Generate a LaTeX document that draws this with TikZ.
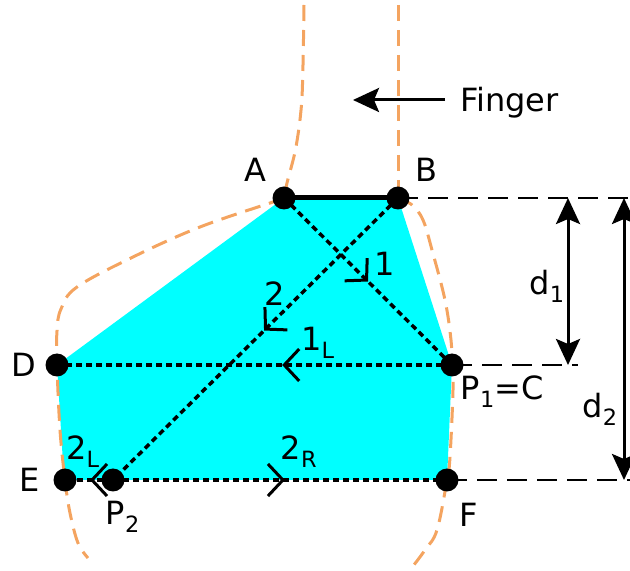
\documentclass[tikz,border=0pt]{standalone}
\usepackage{fontspec}
\setmainfont{DejaVu Sans}
\usetikzlibrary{arrows.meta,decorations.markings,positioning}
\definecolor{skin}{RGB}{244,164,96}
\definecolor{palm}{RGB}{0,255,255}
\tikzset{
ray/.style={line width=3.5pt,dash pattern=on 6pt off 4pt},
midarrow/.style={postaction={decorate},decoration={markings,
  mark=at position #1 with {\arrow{Straight Barb[length=15pt,width=32pt,line width=3pt]}}}},
outline/.style={skin,line width=3pt,dash pattern=on 16pt off 9pt},
level/.style={line width=2.5pt,dash pattern=on 20pt off 10pt},
tip/.tip={Stealth[length=26pt,width=24pt,inset=5pt]},
dim/.style={line width=3pt,tip-tip},
}
\begin{document}
\begin{tikzpicture}[x=1pt,y=1pt,font=\fontsize{32}{38}\selectfont]
\useasboundingbox (0,0) rectangle (630,571);
\path
(284,373) coordinate (A)
(398,373) coordinate (B)
(452,206) coordinate (C)
(57,206) coordinate (D)
(65,91) coordinate (E)
(447,91) coordinate (F)
(113,91) coordinate (P2)
(630,373) coordinate (Bend)
(578,206) coordinate (Cend)
(630,91) coordinate (Fend)
(568,373) coordinate (d1top)
(568,206) coordinate (d1bot)
(624,373) coordinate (d2top)
(624,91) coordinate (d2bot)
(445,471) coordinate (tail)
(353,471) coordinate (head)
;
\fill[palm] (A)--(B)--(C)--(448,114)--(F)--(E)--(63,108)--(D)--cycle;
% finger and palm outline
\draw[outline] plot[smooth] coordinates {(304,566) (302,474) (296,424) (287,388) (A)};
\draw[outline] plot[smooth,tension=0.6] coordinates {(A) (273,369) (200,344) (133,314)
  (77,284) (61,262) (57,240) (D) (60,141) (E) (70,58) (78,28) (88,13)};
\draw[outline] (398,566)--(B);
\draw[outline] plot[smooth,tension=0.6] coordinates {(B) (412,366) (423,351) (432,321)
  (445,271) (451,231) (C) (453,181) (450,114) (F) (437,41) (425,21) (410,1)};
% rays
\draw[ray,midarrow=0.5] (A)--(C);
\draw[ray,midarrow=0.47] (B)--(P2);
\draw[ray,midarrow=0.43] (C)--(D);
\draw[ray,midarrow=0.48] (P2)--(E);
\draw[ray,midarrow=0.515] (P2)--(F);
\draw[line width=5pt] (A)--(B);
\node (lab1) at (385,307) {1};
\node (lab2) at (275,277) {2};
\node (lab1L) at (318,228) {1\textsubscript{L}};
\node (lab2L) at (83,119) {2\textsubscript{L}};
\node (lab2R) at (299,119) {2\textsubscript{R}};
% distances
\draw[level] (B)--(Bend) (C)--(Cend) (F)--(Fend);
\draw[dim] (d1top)--(d1bot) node[pos=0.53,left=2pt,inner sep=0] (d1) {d\textsubscript{1}};
\draw[dim] (d2top)--(d2bot) node[pos=0.75,left=5pt,inner sep=0] (d2) {d\textsubscript{2}};
\draw[line width=3pt,-tip] (tail)--(head);
\node[anchor=base west,inner sep=0] (finger) at (460,459) {Finger};
\foreach \x/\g/\r/\t in {A/135/40/A,B/45/40/B,D/180/33/D,E/180/35/E,
  P2/-75/38/P\textsubscript{2},F/-58/41/F,C/-28/57/P\textsubscript{1}=C}
\fill[black] (\x) circle(11.5) + (\g:\r pt) node {\t};
\end{tikzpicture}
\end{document}
